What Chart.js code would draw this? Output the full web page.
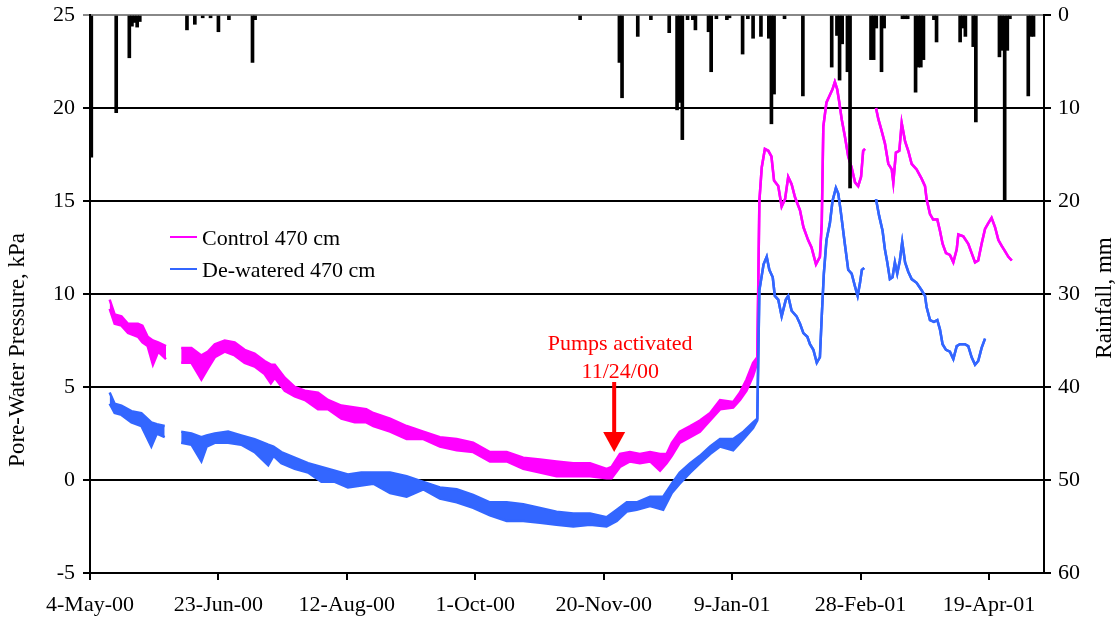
<!DOCTYPE html>
<html>
<head>
<meta charset="utf-8">
<script src="https://cdn.jsdelivr.net/npm/chart.js@4/dist/chart.umd.min.js"></script>
<style>
  body { margin: 0; background: #fff; }
</style>
</head>
<body>
<canvas id="chart" width="1117" height="624"></canvas>
<script>
// x values are days since 4-May-00
const dateLabels = ['4-May-00', '23-Jun-00', '12-Aug-00', '1-Oct-00', '20-Nov-00', '9-Jan-01', '28-Feb-01', '19-Apr-01'];

// Control 470 cm: upper / lower edge of the noisy trace (low = high once the trace is clean)
const controlDays = [7.5, 9.4, 12, 14.5, 18.3, 20, 22, 24, 26, 29, 31, 34.8, 38.7, 42.5, 45, 47.6, 51.4, 55.2, 59, 62.8,
  66.6, 69, 70.5, 74.3, 78.1, 82, 87, 90.8, 95.9, 101, 105.4, 108.1, 114.5, 120.8, 127.2, 133.5, 139.9, 146.2, 152.6, 159,
  165.3, 171.7, 178, 184.4, 190.8, 197.1, 199, 202.2, 206, 209.8, 213.7, 217.5, 220, 222, 225, 229, 232.7, 236.6, 240.4, 245.4,
  248, 250.5, 253, 254.6,
  255.4, 256.3, 257.5, 258.8, 260, 261, 262.6, 263.9, 265.2, 266.4, 267.7, 269, 270.9, 272.2, 274, 275.3, 277, 278.5, 279.2, 279.8,
  281, 282.3, 283.3, 284.2, 285.1, 285.9, 286.8, 288, 289.3, 290.6, 291.9, 293.1, 294.2, 295, 295.7, 297,
  299.9, 300.8, 302, 303.3, 304.6, 305.9, 306.5, 307.5, 308.8, 309.7, 311, 312.2, 313.5, 315.4, 317.3, 318.6, 319.2, 320.5, 321.7, 323.3,
  324.3, 325.3, 326.6, 328.1, 329.4, 330.7, 331.3, 333.2, 335.1, 336.4, 337.7, 338.9, 340.2, 341.5, 342.7, 344, 345.3, 346.6, 347.8, 349.1,
  350.4, 351.7];
const controlHigh = [9.7, 8.9, 8.8, 8.4, 8.4, 8.3, 7.7, 7.5, 7.4, 7.2, null, 7.1, 7.1, 6.7, 6.9, 7.3, 7.5, 7.4, 7.0, 6.8,
  6.4, 6.2, 6.2, 5.5, 5.0, 4.8, 4.7, 4.3, 4.0, 3.9, 3.8, 3.6, 3.3, 2.9, 2.6, 2.3, 2.2, 2.0, 1.5, 1.5,
  1.2, 1.1, 1.0, 0.9, 0.9, 0.6, 0.7, 1.4, 1.5, 1.4, 1.5, 1.4, 1.4, 2.0, 2.6, 2.9, 3.2, 3.6, 4.3, 4.2,
  4.7, 5.4, 6.3, 6.6,
  15.0, 16.8, 17.8, 17.7, 17.4, 16.1, 15.8, 14.7, 15.1, 16.3, 15.9, 15.2, 14.5, 13.6, 12.9, 12.5, 11.6, 12.0, 13.8, 19.0,
  20.3, 20.7, 21.0, 21.4, 21.0, 20.3, 19.4, 18.5, 17.4, 16.8, 16.0, 15.8, 16.3, 17.7, 17.8, null,
  20.0, 19.4, 18.8, 18.1, 17.0, 16.7, 16.0, 17.6, 17.7, 19.2, 18.2, 17.7, 17.0, 16.7, 16.2, 15.8, 15.1, 14.3, 14.0, 14.0,
  13.4, 12.7, 12.2, 12.1, 11.7, 12.4, 13.2, 13.1, 12.7, 12.2, 11.7, 11.8, 12.7, 13.5, 13.8, 14.1, 13.6, 12.9, 12.6, 12.3,
  12.0, 11.8];
const controlLow = [9.2, 8.4, 8.3, 7.9, 7.7, 7.4, 7.2, 6.2, 6.9, 6.5, null, 6.3, 6.3, 5.4, 6.0, 6.6, 6.9, 6.7, 6.3, 6.1,
  5.7, 5.2, 5.5, 4.8, 4.5, 4.3, 3.8, 3.8, 3.3, 3.1, 3.1, 2.9, 2.6, 2.2, 2.2, 1.8, 1.6, 1.5, 1.0, 1.0,
  0.6, 0.4, 0.2, 0.2, 0.2, 0.1, 0.1, 0.7, 1.0, 0.9, 1.0, 0.5, 0.9, 1.3, 2.0, 2.3, 2.6, 3.2, 3.8, 3.9,
  4.3, 4.8, 5.6, 6.3];

// De-watered 470 cm
const dewaterDays = [7.5, 9.4, 12, 15.8, 19.6, 23.4, 25.5, 28.5, 31, 34.8, 38.7, 42.5, 44.5, 47.6, 52.7, 57.7, 62.8, 68, 70, 73,
  78.1, 83.2, 88.3, 93.4, 98.4, 103.5, 108.1, 114.5, 120.8, 127.2, 133.5, 139.9, 146.2, 152.6, 159, 165.3, 171.7, 178, 184.4, 190.8,
  197.1, 201, 204.8, 208.6, 213.7, 218.7, 222, 225, 229, 232.7, 236.6, 240.4, 245.4, 249.3, 253, 254.6,
  255.4, 257, 258.2, 259.2, 260.5, 261.3, 262.6, 263.9, 265.5, 266.4, 267.7, 269.6, 270.9, 272.2, 273.7, 274.7, 276, 277.3, 278.5, 279.2,
  280, 281, 282.3, 283.3, 284.6, 285.5, 286.4, 288, 289.3, 290.6, 291.9, 292.9, 293.8, 294.5, 295.4, 297,
  299.9, 301.1, 302.4, 303.3, 304.2, 305.2, 306.2, 307.1, 308, 309, 309.9, 311, 312.2, 313.5, 315.4, 317.3, 318.6, 319.2, 320.5, 322,
  323.3, 324.3, 325.3, 326.6, 328.1, 329.4, 330.7, 331.9, 333.8, 335.1, 336.4, 337.7, 338.9, 340.2, 341.5];
const dewaterHigh = [4.7, 4.1, 4.0, 3.7, 3.6, 3.1, 3.0, 2.9, null, 2.6, 2.5, 2.3, 2.4, 2.5, 2.6, 2.4, 2.2, 1.9, 1.8, 1.5,
  1.2, 0.9, 0.7, 0.5, 0.3, 0.4, 0.4, 0.4, 0.2, -0.1, -0.4, -0.5, -0.8, -1.2, -1.2, -1.3, -1.5, -1.7, -1.8, -1.8,
  -2.0, -1.6, -1.2, -1.2, -0.9, -0.9, -0.2, 0.4, 0.9, 1.3, 1.8, 2.2, 2.2, 2.6, 3.1, 3.3,
  10.2, 11.6, 12.0, 11.3, 10.9, 9.9, 9.7, 8.8, 9.7, 9.9, 9.1, 8.8, 8.4, 7.9, 7.7, 7.3, 7.0, 6.3, 6.6, 8.8,
  11.1, 12.9, 13.8, 15.0, 15.7, 15.4, 14.5, 12.7, 11.3, 11.1, 10.4, 9.9, 10.6, 11.3, 11.4, null,
  15.1, 14.2, 13.4, 12.4, 11.7, 10.8, 10.9, 11.7, 11.1, 11.8, 12.8, 11.7, 11.2, 10.8, 10.6, 10.2, 9.9, 9.3, 8.6, 8.5,
  8.6, 8.1, 7.3, 7.0, 6.9, 6.5, 7.2, 7.3, 7.3, 7.2, 6.6, 6.2, 6.4, 7.1, 7.6];
const dewaterLow = [4.1, 3.6, 3.5, 3.1, 2.9, 1.8, 2.5, 2.3, null, 2.0, 1.9, 1.0, 1.8, 2.0, 2.0, 1.9, 1.5, 0.8, 1.3, 0.9,
  0.6, 0.4, -0.1, -0.1, -0.4, -0.3, -0.2, -0.7, -0.9, -0.5, -1.0, -1.2, -1.5, -1.9, -2.2, -2.2, -2.3, -2.4, -2.5, -2.4,
  -2.5, -2.2, -1.7, -1.6, -1.4, -1.6, -0.7, -0.2, 0.4, 0.9, 1.4, 1.8, 1.6, 2.2, 2.8, 3.2];

// daily rainfall, mm
const rainDays = [0.5, 10, 15, 16, 17, 18, 19, 37, 40, 43, 46, 49, 53, 62, 63, 187, 202, 203, 209, 214,
  221, 224, 225, 226, 228, 230, 231, 236, 237, 239, 243, 244, 249, 251, 253, 256, 259, 260, 261, 265,
  272, 283, 285, 286, 287, 289, 290, 298, 299, 300, 302, 303, 310, 311, 312, 315, 316, 317, 318, 322,
  323, 332, 333, 334, 337, 338, 347, 348, 349, 350, 351, 358, 359, 360];
const rainMm = [15.3, 10.5, 4.6, 1.2, 0.8, 1.3, 0.7, 1.6, 1.0, 0.3, 0.3, 1.8, 0.5, 5.1, 0.5, 0.5, 5.1, 8.9, 2.3, 0.5,
  1.9, 10.2, 9.4, 13.4, 0.5, 0.5, 1.6, 1.8, 6.1, 0.4, 0.5, 0.3, 4.2, 0.4, 2.5, 2.3, 2.5, 11.7, 8.5, 0.4,
  8.7, 5.6, 2.2, 7.0, 3.1, 6.1, 18.6, 4.8, 4.8, 1.4, 6.1, 1.4, 0.4, 0.4, 0.4, 8.3, 5.6, 5.6, 4.8, 0.5,
  2.9, 2.9, 1.4, 2.3, 3.4, 11.5, 4.5, 3.8, 20.0, 3.8, 0.4, 8.7, 2.3, 2.3];

const pumpDay = 200;
const pumpText = ['Pumps activated', '11/24/00'];

const MAGENTA = '#FF00FF';
const BLUE = '#3366FF';
const FONT = '"Liberation Serif", "Times New Roman", serif';

function points(days, vals) {
  return days.map((d, i) => ({ x: d, y: vals[i] }));
}
function lowPoints(days, high, low) {
  return days.map((d, i) => ({ x: d, y: i < low.length ? low[i] : high[i] }));
}

function traceStyle(color) {
  return { borderColor: color, backgroundColor: color, borderWidth: 2.5, pointRadius: 0, tension: 0, yAxisID: 'y' };
}

const overlay = {
  id: 'overlay',
  afterDatasetsDraw(chart) {
    const { ctx, scales } = chart;
    ctx.save();

    // legend
    ctx.font = '22px ' + FONT;
    ctx.textBaseline = 'middle';
    ctx.textAlign = 'left';
    [['Control 470 cm', MAGENTA, 237], ['De-watered 470 cm', BLUE, 269]].forEach(([txt, col, yy]) => {
      ctx.strokeStyle = col;
      ctx.lineWidth = 2;
      ctx.beginPath();
      ctx.moveTo(170, yy);
      ctx.lineTo(197, yy);
      ctx.stroke();
      ctx.fillStyle = '#000';
      ctx.fillText(txt, 202, yy + 2);
    });

    // pump annotation
    const ax = scales.x.getPixelForValue(pumpDay);
    ctx.fillStyle = '#FF0000';
    ctx.strokeStyle = '#FF0000';
    ctx.textAlign = 'center';
    ctx.textBaseline = 'alphabetic';
    ctx.fillText(pumpText[0], ax + 6, 350);
    ctx.fillText(pumpText[1], ax + 6, 378);
    ctx.lineWidth = 4;
    ctx.beginPath();
    ctx.moveTo(ax, 382);
    ctx.lineTo(ax, 434);
    ctx.stroke();
    ctx.beginPath();
    ctx.moveTo(ax - 11, 432);
    ctx.lineTo(ax + 11, 432);
    ctx.lineTo(ax, 452);
    ctx.closePath();
    ctx.fill();

    // axis titles
    ctx.fillStyle = '#000';
    ctx.font = '23px ' + FONT;
    ctx.textBaseline = 'middle';
    [['Pore-Water Pressure, kPa', 18, 350], ['Rainfall, mm', 1105, 298]].forEach(([txt, tx, ty]) => {
      ctx.save();
      ctx.translate(tx, ty);
      ctx.rotate(-Math.PI / 2);
      ctx.fillText(txt, 0, 0);
      ctx.restore();
    });
    ctx.restore();
  }
};

const tickFont = { family: FONT, size: 22 };

function fixWidth(w) {
  return s => { s.width = w; s.paddingTop = 0; s.paddingBottom = 0; };
}

new Chart(document.getElementById('chart'), {
  type: 'line',
  data: {
    datasets: [
      { type: 'bar', label: 'Rainfall', data: points(rainDays, rainMm), yAxisID: 'y2',
        backgroundColor: '#000', barThickness: 3 },
      Object.assign({ label: 'De-watered 470 cm', data: points(dewaterDays, dewaterHigh) }, traceStyle(BLUE)),
      Object.assign({ label: 'De-watered low', data: lowPoints(dewaterDays, dewaterHigh, dewaterLow), fill: '-1' }, traceStyle(BLUE)),
      Object.assign({ label: 'Control 470 cm', data: points(controlDays, controlHigh) }, traceStyle(MAGENTA)),
      Object.assign({ label: 'Control low', data: lowPoints(controlDays, controlHigh, controlLow), fill: '-1' }, traceStyle(MAGENTA))
    ]
  },
  options: {
    responsive: false,
    animation: false,
    devicePixelRatio: 1,
    layout: { padding: { top: 15, left: 0, right: 0, bottom: 0 } },
    plugins: { legend: { display: false }, tooltip: { enabled: false } },
    scales: {
      x: {
        type: 'linear', min: 0, max: 364, offset: false,
        grid: { offset: false, drawOnChartArea: false, drawTicks: true, tickLength: 7, color: '#000', lineWidth: 2 },
        border: { display: true, color: '#000', width: 2 },
        ticks: { stepSize: 49, includeBounds: false, autoSkip: false, maxRotation: 0, padding: 12,
          color: '#000', font: tickFont, callback: v => dateLabels[v / 49] },
        afterFit(s) { s.height = 51; s.paddingLeft = 0; s.paddingRight = 0; }
      },
      y: {
        position: 'left', min: -5, max: 25,
        grid: { offset: false, color: c => (c.tick && c.tick.value === 25 ? '#888' : '#000'), lineWidth: 2, tickLength: 7 },
        border: { display: true, color: '#000', width: 2 },
        ticks: { stepSize: 5, padding: 8, color: '#000', font: tickFont },
        afterFit: fixWidth(90)
      },
      y2: {
        position: 'right', min: 0, max: 60, reverse: true,
        grid: { offset: false, drawOnChartArea: false, tickLength: 7, color: '#000', lineWidth: 2 },
        border: { display: true, color: '#000', width: 2 },
        ticks: { stepSize: 10, padding: 7, color: '#000', font: tickFont },
        afterFit: fixWidth(73)
      }
    }
  },
  plugins: [overlay]
});
</script>
</body>
</html>
